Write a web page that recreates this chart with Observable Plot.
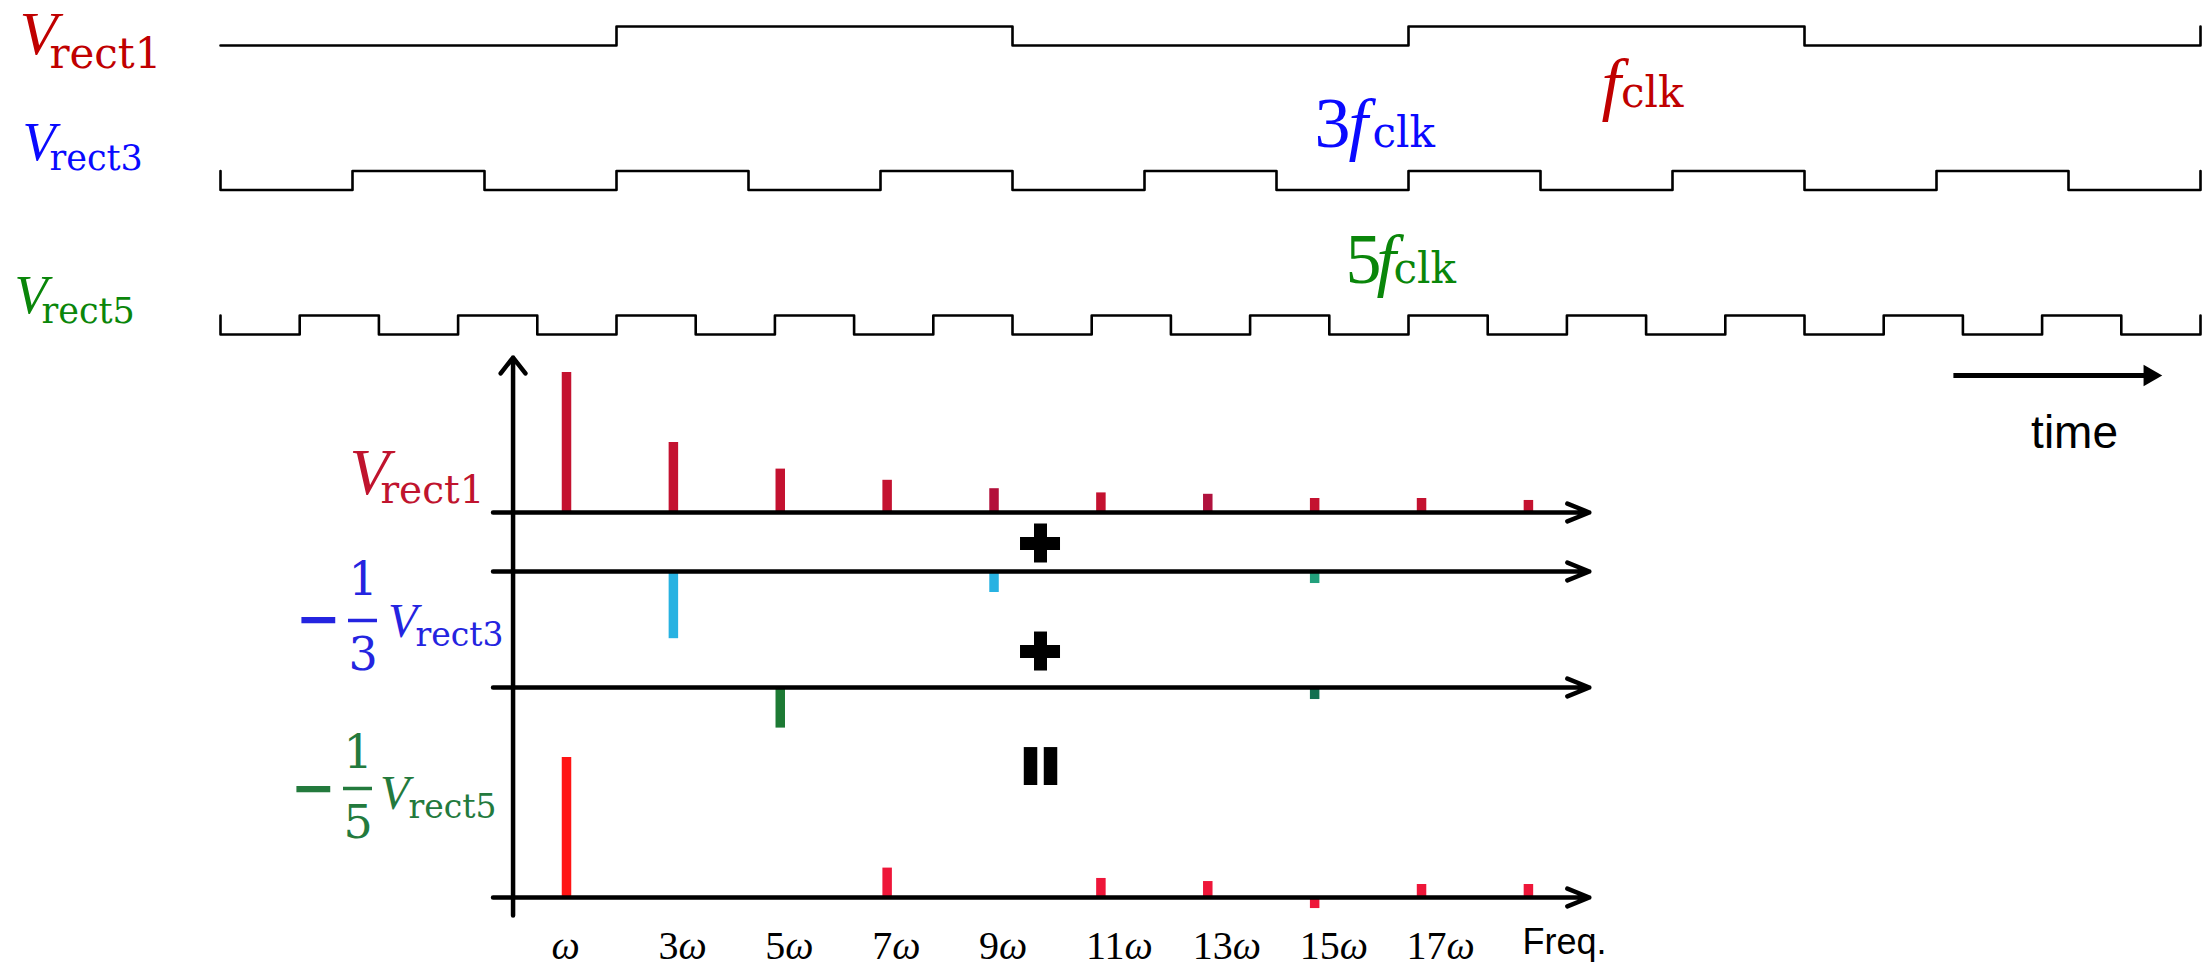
<!DOCTYPE html>
<html><head><meta charset="utf-8">
<script src="https://cdn.jsdelivr.net/npm/d3@7"></script>
<script src="https://cdn.jsdelivr.net/npm/@observablehq/plot@0.6"></script>
<style>
html,body{margin:0;padding:0;background:#fff;}
#wrap{position:relative;width:2211px;height:967px;overflow:hidden;background:#fff;}
#wrap svg{position:absolute;left:0;top:0;}
</style></head>
<body><div id="wrap"></div>
<script>
// ---------------- data ----------------
const halfPeriodsShown = 5;                       // time span: 5 half-periods of f_clk
const rect1Levels = [0,1,0,1,0];                  // V_rect1 level per segment
const rect3Levels = [0,1,0,1,0,1,0,1,0,1,0,1,0,1,0];
const rect5Levels = [0,1,0,1,0,1,0,1,0,1,0,1,0,1,0,1,0,1,0,1,0,1,0,1,0];

const harmonics  = [1,3,5,7,9,11,13,15,17,19];
const specRect1  = [1.00,0.50,0.31,0.23,0.17,0.14,0.13,0.10,0.10,0.086];
const specRect3  = [0,-0.48,0,0,-0.15,0,0,-0.086,0,0];   // -1/3 Vrect3
const specRect5  = [0,0,-0.29,0,0,0,0,-0.086,0,0];       // -1/5 Vrect5
const specSum    = [1.00,0,0,0.21,0,0.136,0.114,-0.079,0.093,0.093];
const freqTickLabels = ["ω","3ω","5ω","7ω","9ω","11ω","13ω","15ω","17ω","Freq."];

// ---------------- layout / style ----------------
const W = 2211, H = 967;
const SERIF = "Liberation Serif", DSERIF = "DejaVu Serif", SANS = "Liberation Sans";
const RED = "#c00000", BLUE = "#0a0aff", GREEN = "#0a860a";
const LB_RED = "#c0142e", LB_BLUE = "#2424e0", LB_GREEN = "#237a3d";

// rich (multi-style) text: placeholder text, rebuilt into tspans after rendering
const RICH = new Map();
let richId = 0;
function rich(x, y, segs, o) {
  const key = segs.map(s => s.t).join("") + "\u2063".repeat(++richId);
  RICH.set(key, segs);
  return Plot.text([key], {text: d => d, x, y, textAnchor: "start", lineAnchor: "bottom", ...o});
}
function applyRich(svg) {
  d3.select(svg).selectAll("text").each(function() {
    const content = this.textContent;
    let segs = RICH.get(content);
    if (!segs && /^\d*ω$/.test(content)) {
      segs = [];
      if (content.length > 1) segs.push({t: content.slice(0, -1), ff: SERIF, fs: 40});
      segs.push({t: "ω", ff: SERIF, fs: 40, it: true});
    }
    if (!segs) return;
    this.textContent = "";
    for (const s of segs) {
      const ts = d3.select(this).append("tspan").text(s.t);
      if (s.ff) ts.attr("font-family", s.ff);
      if (s.fs) ts.attr("font-size", s.fs);
      ts.attr("font-style", s.it ? "italic" : "normal");
      if (s.dx) ts.attr("dx", s.dx);
      if (s.dy) ts.attr("dy", s.dy);
    }
  });
}
const V = (fs) => ({t: "V", ff: SERIF, fs, it: true});
const SUB = (t, fs, dx, dy) => ({t, ff: DSERIF, fs, dx, dy});

// ---------------- waveform panel ----------------
const A = {left: 220, right: 2200, top: 26, pxPerLevel: 19.01, rowGap: 7.6};
const rowLow = [0, -A.rowGap, -2 * A.rowGap];

function wavePoints(levels, row, startEdge) {
  const off = rowLow[row], dt = halfPeriodsShown / levels.length, pts = [];
  if (startEdge) pts.push({t: 0, v: 1 + off, row});
  levels.forEach((L, i) => {
    pts.push({t: i * dt, v: L + off, row});
    pts.push({t: (i + 1) * dt, v: L + off, row});
  });
  pts.push({t: halfPeriodsShown, v: 1 + off, row});
  return pts;
}
const wavePts = [
  ...wavePoints(rect1Levels, 0, false),
  ...wavePoints(rect3Levels, 1, true),
  ...wavePoints(rect5Levels, 2, true)
];

const plotA = Plot.plot({
  width: W, height: H,
  marginLeft: A.left, marginRight: W - A.right,
  marginTop: A.top, marginBottom: H - (A.top + (1 + 2 * A.rowGap) * A.pxPerLevel),
  x: {domain: [0, halfPeriodsShown], axis: null},
  y: {domain: [-2 * A.rowGap, 1], axis: null},
  style: {background: "transparent", overflow: "visible"},
  marks: [
    Plot.line(wavePts, {x: "t", y: "v", z: "row", stroke: "#000", strokeWidth: 2.6}),
    // row labels
    rich(0, rowLow[0], [V(62), SUB("rect1", 42, -8, 14)], {dx: -201, dy: 8, fill: RED}),
    rich(0, rowLow[1], [V(54), SUB("rect3", 35, -6, 10)], {dx: -198, dy: -29.5, fill: BLUE}),
    rich(0, rowLow[2], [V(54), SUB("rect5", 35, -6, 10)], {dx: -206, dy: -21, fill: GREEN}),
    // frequency annotations
    rich(3.5, rowLow[0], [{t: "f", ff: SERIF, fs: 70, it: true}, {t: "clk", ff: DSERIF, fs: 42}],
      {dx: -5, dy: 61, fill: RED}),
    rich(2.75, rowLow[1], [{t: "3", ff: SERIF, fs: 72}, {t: "f", ff: SERIF, fs: 70, it: true, dx: -2},
      {t: "clk", ff: DSERIF, fs: 42, dx: 4.5}], {dx: 5, dy: -42.5, fill: BLUE}),
    rich(2.75, rowLow[2], [{t: "5", ff: SERIF, fs: 72}, {t: "f", ff: SERIF, fs: 70, it: true, dx: -5},
      {t: "clk", ff: DSERIF, fs: 42, dx: -2.5}], {dx: 36, dy: -51, fill: GREEN}),
    // time arrow
    Plot.link([0], {x1: 4.376, x2: 4.866, y1: rowLow[2], y2: rowLow[2], dy: 41, stroke: "#000", strokeWidth: 5}),
    Plot.dot([0], {x: 4.872, y: rowLow[2], dy: 41, symbol: "triangle", r: 8, rotate: 90, fill: "#000", stroke: "none"}),
    Plot.text(["time"], {text: d => d, x: 4.682, y: rowLow[2], dy: 114, textAnchor: "middle", lineAnchor: "bottom",
      fontFamily: SANS, fontSize: 46, fill: "#000"})
  ]
});

// ---------------- spectrum panel ----------------
const B = {x1: 566, pxPerHarm: 53.44, y0: 512, pxPerUnit: 140, uMin: -2.75, uMax: 1};
const rowBase = [0, -0.4214, -1.25, -2.75];
const rowColor = ["#c41230", "#27b2e2", "#1d7a34", "#ee1639"];
const colorExceptions = {"1-15": "#22a07c", "2-15": "#117050", "3-1": "#ff1414", "0-13": "#b0123e", "0-9": "#b3103a"};

const bars = [];
[specRect1, specRect3, specRect5, specSum].forEach((vals, r) => vals.forEach((v, i) => {
  if (v !== 0) bars.push({n: harmonics[i], base: rowBase[r], top: rowBase[r] + v,
    color: colorExceptions[r + "-" + harmonics[i]] || rowColor[r]});
}));

const tickData = harmonics.map((n, i) => ({n, label: freqTickLabels[i]}));
const omegaTicks = tickData.filter(d => d.label.endsWith("ω"));
const otherTicks = tickData.filter(d => !d.label.endsWith("ω"));

const opX = 9.87, plusY = [-0.2214, -0.993];
const hx = 20 / B.pxPerHarm, hy = 19.5 / B.pxPerUnit;

const frac = (x, y, num, den, o) => [
  Plot.text([num], {text: d => d, x, y, dx: o.dx, dy: o.numDy, textAnchor: "middle", lineAnchor: "bottom",
    fontFamily: DSERIF, fontSize: 46, fill: o.fill}),
  Plot.text([den], {text: d => d, x, y, dx: o.dx, dy: o.denDy, textAnchor: "middle", lineAnchor: "bottom",
    fontFamily: DSERIF, fontSize: 46, fill: o.fill}),
  Plot.ruleY([y], {y: d => d, x1: o.x1, x2: o.x2, dy: o.barDy, stroke: o.fill, strokeWidth: 3.5}),
  Plot.text(["−"], {text: d => d, x, y, dx: o.minusDx, dy: o.minusDy, textAnchor: "middle", lineAnchor: "bottom",
    fontFamily: "DejaVu Sans", fontWeight: "bold", fontSize: 54, fill: o.fill})
];

const plotB = Plot.plot({
  width: W, height: H,
  marginLeft: B.x1, marginRight: W - (B.x1 + 18 * B.pxPerHarm),
  marginTop: B.y0 - B.uMax * B.pxPerUnit, marginBottom: H - (B.y0 - B.uMin * B.pxPerUnit),
  x: {domain: [1, 19], axis: null},
  y: {domain: [B.uMin, B.uMax], axis: null},
  color: {type: "identity"},
  style: {background: "transparent", overflow: "visible"},
  marks: [
    Plot.ruleX(bars, {x: "n", y1: "base", y2: "top", stroke: "color", strokeWidth: 9.5}),
    Plot.arrow(rowBase, {x1: -0.375, x2: 20.14, y1: d => d, y2: d => d, stroke: "#000", strokeWidth: 4.5, headLength: 7.9, headAngle: 44}),
    Plot.arrow([0], {x1: 0, x2: 0, y1: -2.879, y2: 1.107, stroke: "#000", strokeWidth: 4.5, headLength: 6.7, headAngle: 76}),
    // + + =
    Plot.ruleY(plusY, {y: d => d, x1: opX - hx, x2: opX + hx, stroke: "#000", strokeWidth: 13}),
    Plot.ruleX(plusY, {x: opX, y1: d => d - hy, y2: d => d + hy, stroke: "#000", strokeWidth: 13}),
    Plot.ruleX([opX - 0.187, opX + 0.187], {x: d => d, y1: -1.679, y2: -1.95, stroke: "#000", strokeWidth: 13.5}),
    // frequency tick labels
    Plot.text(omegaTicks, {x: "n", y: B.uMin, text: "label", dx: -15, dy: 61,
      textAnchor: "start", lineAnchor: "bottom", fontFamily: SERIF, fontSize: 40, fill: "#000"}),
    Plot.text(otherTicks, {x: "n", y: B.uMin, text: "label", dx: -6, dy: 56,
      textAnchor: "start", lineAnchor: "bottom", fontFamily: SANS, fontSize: 36, fill: "#000"}),
    // row labels
    rich(0, rowBase[0], [V(65), SUB("rect1", 39, -8.7, 9)], {dx: -163.6, dy: -19, fill: LB_RED}),
    ...frac(0, rowBase[1], "1", "3", {dx: -150, numDy: 24, denDy: 99, x1: -3.079, x2: -2.537, barDy: 49,
      minusDx: -195, minusDy: 66, fill: LB_BLUE}),
    rich(0, rowBase[1], [V(48), SUB("rect3", 33, -2, 9)], {dx: -125, dy: 66, fill: LB_BLUE}),
    ...frac(0, rowBase[2], "1", "5", {dx: -155, numDy: 80, denDy: 150, x1: -3.173, x2: -2.630, barDy: 101,
      minusDx: -200, minusDy: 118, fill: LB_GREEN}),
    rich(0, rowBase[2], [V(48), SUB("rect5", 33, -1, 9)], {dx: -133, dy: 121, fill: LB_GREEN})
  ]
});

applyRich(plotA);
applyRich(plotB);
const wrap = document.getElementById("wrap");
wrap.append(plotA, plotB);
</script>
</body></html>
